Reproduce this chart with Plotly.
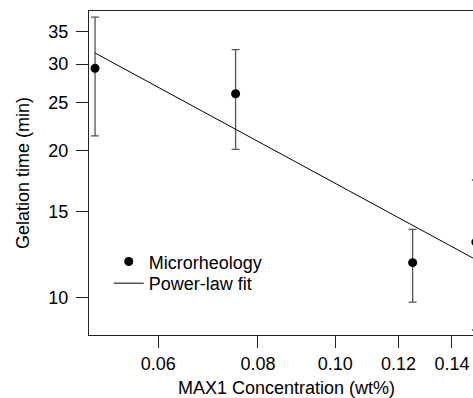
import plotly.graph_objects as go

# Data
conc = [0.05, 0.075, 0.125, 0.15]          # MAX1 concentration (wt%)
gel_time = [29.4, 26.1, 11.8, 13.0]         # gelation time (min)
gel_err = [8.0, 6.0, 2.0, 4.4]              # error bars (min)
fit_x = [0.05, 0.15]                        # power-law fit endpoints
fit_y = [31.6, 11.97]

x_tickvals = [0.06, 0.08, 0.10, 0.12, 0.14]
x_ticktext = ["0.06", "0.08", "0.10", "0.12", "0.14"]
y_tickvals = [10, 15, 20, 25, 30, 35]
y_ticktext = ["10", "15", "20", "25", "30", "35"]

FONT = "Liberation Sans, Arial, Helvetica, sans-serif"

fig = go.Figure()
fig.add_trace(go.Scatter(
    x=conc, y=gel_time, mode="markers", name="Microrheology",
    marker=dict(color="black", size=9),
    error_y=dict(type="data", array=gel_err, visible=True,
                 color="#555555", thickness=1.3, width=4),
    legend="legend",
))
fig.add_trace(go.Scatter(
    x=fit_x, y=fit_y, mode="lines", name="Power-law fit",
    line=dict(color="black", width=1),
    legend="legend2",
))

leg_common = dict(xanchor="left", yanchor="middle",
                  bgcolor="rgba(0,0,0,0)", font=dict(size=18),
                  itemwidth=30, borderwidth=0)

fig.update_layout(
    width=495, height=398,
    margin=dict(l=89, r=11, t=11, b=63, autoexpand=False),
    paper_bgcolor="white", plot_bgcolor="white",
    font=dict(family=FONT, size=18, color="black"),
    showlegend=True,
    legend=dict(x=0.05, y=1 - (261.7 - 11.5) / 323.2, **leg_common),
    legend2=dict(x=0.05, y=1 - (283.3 - 11.5) / 323.2, **leg_common),
    xaxis=dict(
        type="log", range=[-1.3086, -0.8137], automargin=False,
        tickvals=x_tickvals, ticktext=x_ticktext,
        ticks="outside", ticklen=12, tickwidth=1, tickcolor="#222222",
        showline=True, linecolor="#222222", linewidth=1, mirror=True,
        showgrid=False, zeroline=False,
        title=dict(text="MAX1 Concentration (wt%)", standoff=8,
                   font=dict(size=18)),
        tickfont=dict(size=18),
    ),
    yaxis=dict(
        type="log", range=[0.9243, 1.5854], automargin=False,
        tickvals=y_tickvals, ticktext=y_ticktext,
        ticks="outside", ticklen=12, tickwidth=1, tickcolor="#222222",
        showline=True, linecolor="#222222", linewidth=1, mirror=True,
        showgrid=False, zeroline=False,
        ticklabelstandoff=4,
        title=dict(text="Gelation time (min)", standoff=14,
                   font=dict(size=18)),
        tickfont=dict(size=18),
    ),
)

fig.write_html("out.html",
               post_script="document.body.style.overflow='hidden';document.documentElement.style.overflow='hidden';")
